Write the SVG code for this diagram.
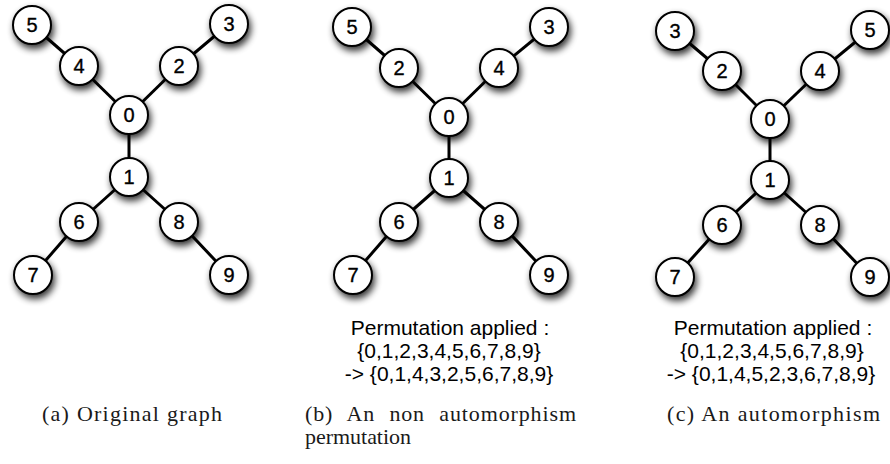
<svg xmlns="http://www.w3.org/2000/svg" width="890" height="464" viewBox="0 0 890 464">
  <defs>
    <filter id="shadow" x="-60%" y="-60%" width="220%" height="220%">
      <feGaussianBlur in="SourceAlpha" stdDeviation="3.5"/>
      <feOffset dx="2" dy="4" result="blur"/>
      <feComponentTransfer><feFuncA type="linear" slope="0.8"/></feComponentTransfer>
      <feMerge><feMergeNode/><feMergeNode in="SourceGraphic"/></feMerge>
    </filter>
  </defs>
  <style>
    .edge { stroke: #000; stroke-width: 3; stroke-linecap: butt; }
    .node circle { fill: #fff; stroke: #000; stroke-width: 2; filter: url(#shadow); }
    .node text { font-family: "Liberation Sans", Arial, sans-serif; font-size: 20px; text-anchor: middle; fill: #000; stroke: #000; stroke-width: 0.35; }
    .perm { font-family: "Liberation Sans", Arial, sans-serif; font-size: 21px; text-anchor: middle; fill: #000; }
    .cap { font-family: "Liberation Serif", "Times New Roman", serif; font-size: 22px; fill: #1a1a1a; }
  </style>

  <!-- graph (a): original -->
  <g id="edges-a">
    <line class="edge" x1="129" y1="115" x2="129" y2="177"/>
    <line class="edge" x1="129" y1="115" x2="79" y2="66"/>
    <line class="edge" x1="79" y1="66" x2="32" y2="25"/>
    <line class="edge" x1="129" y1="115" x2="179" y2="66"/>
    <line class="edge" x1="179" y1="66" x2="229" y2="24"/>
    <line class="edge" x1="129" y1="177" x2="79" y2="222"/>
    <line class="edge" x1="79" y1="222" x2="33" y2="275"/>
    <line class="edge" x1="129" y1="177" x2="179" y2="222"/>
    <line class="edge" x1="179" y1="222" x2="229" y2="275"/>
  </g>
  <g id="a-n5" class="node"><circle cx="32" cy="25" r="19"/><text x="32" y="32">5</text></g>
  <g id="a-n4" class="node"><circle cx="79" cy="66" r="19"/><text x="79" y="73">4</text></g>
  <g id="a-n2" class="node"><circle cx="179" cy="66" r="19"/><text x="179" y="73">2</text></g>
  <g id="a-n3" class="node"><circle cx="229" cy="24" r="19"/><text x="229" y="31">3</text></g>
  <g id="a-n0" class="node"><circle cx="129" cy="115" r="19"/><text x="129" y="122">0</text></g>
  <g id="a-n1" class="node"><circle cx="129" cy="177" r="19"/><text x="129" y="184">1</text></g>
  <g id="a-n6" class="node"><circle cx="79" cy="222" r="19"/><text x="79" y="229">6</text></g>
  <g id="a-n8" class="node"><circle cx="179" cy="222" r="19"/><text x="179" y="229">8</text></g>
  <g id="a-n7" class="node"><circle cx="33" cy="275" r="19"/><text x="33" y="282">7</text></g>
  <g id="a-n9" class="node"><circle cx="229" cy="275" r="19"/><text x="229" y="282">9</text></g>

  <!-- graph (b): non automorphism permutation -->
  <g id="edges-b">
    <line class="edge" x1="449" y1="117" x2="449" y2="178"/>
    <line class="edge" x1="449" y1="117" x2="399" y2="68"/>
    <line class="edge" x1="399" y1="68" x2="352" y2="27"/>
    <line class="edge" x1="449" y1="117" x2="499" y2="68"/>
    <line class="edge" x1="499" y1="68" x2="549" y2="27"/>
    <line class="edge" x1="449" y1="178" x2="399" y2="222"/>
    <line class="edge" x1="399" y1="222" x2="353" y2="275"/>
    <line class="edge" x1="449" y1="178" x2="499" y2="222"/>
    <line class="edge" x1="499" y1="222" x2="549" y2="275"/>
  </g>
  <g id="b-n5" class="node"><circle cx="352" cy="27" r="19"/><text x="352" y="34">5</text></g>
  <g id="b-n2" class="node"><circle cx="399" cy="68" r="19"/><text x="399" y="75">2</text></g>
  <g id="b-n4" class="node"><circle cx="499" cy="68" r="19"/><text x="499" y="75">4</text></g>
  <g id="b-n3" class="node"><circle cx="549" cy="27" r="19"/><text x="549" y="34">3</text></g>
  <g id="b-n0" class="node"><circle cx="449" cy="117" r="19"/><text x="449" y="124">0</text></g>
  <g id="b-n1" class="node"><circle cx="449" cy="178" r="19"/><text x="449" y="185">1</text></g>
  <g id="b-n6" class="node"><circle cx="399" cy="222" r="19"/><text x="399" y="229">6</text></g>
  <g id="b-n8" class="node"><circle cx="499" cy="222" r="19"/><text x="499" y="229">8</text></g>
  <g id="b-n7" class="node"><circle cx="353" cy="275" r="19"/><text x="353" y="282">7</text></g>
  <g id="b-n9" class="node"><circle cx="549" cy="275" r="19"/><text x="549" y="282">9</text></g>

  <!-- graph (c): automorphism -->
  <g id="edges-c">
    <line class="edge" x1="770" y1="119" x2="770" y2="180"/>
    <line class="edge" x1="770" y1="119" x2="722" y2="71"/>
    <line class="edge" x1="722" y1="71" x2="675" y2="31"/>
    <line class="edge" x1="770" y1="119" x2="820" y2="71"/>
    <line class="edge" x1="820" y1="71" x2="870" y2="30"/>
    <line class="edge" x1="770" y1="180" x2="722" y2="225"/>
    <line class="edge" x1="722" y1="225" x2="675" y2="277"/>
    <line class="edge" x1="770" y1="180" x2="820" y2="225"/>
    <line class="edge" x1="820" y1="225" x2="870" y2="277"/>
  </g>
  <g id="c-n3" class="node"><circle cx="675" cy="31" r="19"/><text x="675" y="38">3</text></g>
  <g id="c-n2" class="node"><circle cx="722" cy="71" r="19"/><text x="722" y="78">2</text></g>
  <g id="c-n4" class="node"><circle cx="820" cy="71" r="19"/><text x="820" y="78">4</text></g>
  <g id="c-n5" class="node"><circle cx="870" cy="30" r="19"/><text x="870" y="37">5</text></g>
  <g id="c-n0" class="node"><circle cx="770" cy="119" r="19"/><text x="770" y="126">0</text></g>
  <g id="c-n1" class="node"><circle cx="770" cy="180" r="19"/><text x="770" y="187">1</text></g>
  <g id="c-n6" class="node"><circle cx="722" cy="225" r="19"/><text x="722" y="232">6</text></g>
  <g id="c-n8" class="node"><circle cx="820" cy="225" r="19"/><text x="820" y="232">8</text></g>
  <g id="c-n7" class="node"><circle cx="675" cy="277" r="19"/><text x="675" y="284">7</text></g>
  <g id="c-n9" class="node"><circle cx="870" cy="277" r="19"/><text x="870" y="284">9</text></g>

  <!-- permutation notes -->
  <g id="perm-b">
    <text class="perm" x="450" y="335">Permutation applied :</text>
    <text class="perm" x="449" y="358">{0,1,2,3,4,5,6,7,8,9}</text>
    <text class="perm" x="449" y="381">-&gt; {0,1,4,3,2,5,6,7,8,9}</text>
  </g>
  <g id="perm-c">
    <text class="perm" x="773" y="335">Permutation applied :</text>
    <text class="perm" x="772" y="358">{0,1,2,3,4,5,6,7,8,9}</text>
    <text class="perm" x="771" y="381">-&gt; {0,1,4,5,2,3,6,7,8,9}</text>
  </g>

  <!-- sub-figure captions -->
  <text class="cap" x="42" y="421" textLength="180" lengthAdjust="spacing">(a) Original graph</text>
  <text class="cap" x="305" y="421" word-spacing="8" textLength="271" lengthAdjust="spacing">(b) An non automorphism</text>
  <text class="cap" x="305" y="444" textLength="106" lengthAdjust="spacing">permutation</text>
  <text class="cap" x="667" y="421" textLength="213" lengthAdjust="spacing">(c) An automorphism</text>
</svg>
